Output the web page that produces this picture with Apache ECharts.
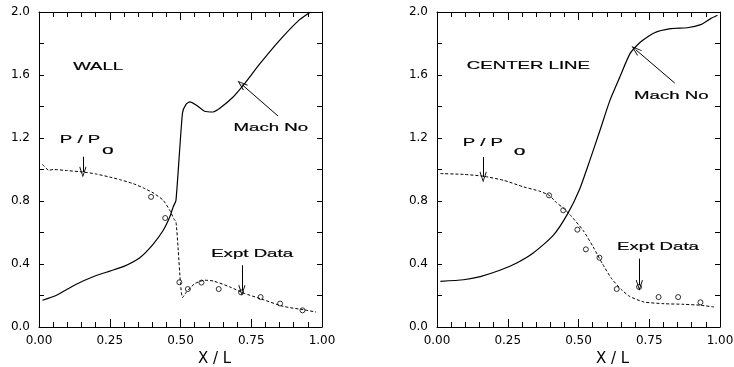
<!DOCTYPE html>
<html>
<head>
<meta charset="utf-8">
<script src="https://cdn.jsdelivr.net/npm/echarts@6/dist/echarts.min.js"></script>
<style>
  html, body { margin: 0; padding: 0; background: #fff; }
  #chart { width: 734px; height: 367px; }
</style>
</head>
<body>
<div id="chart"></div>
<script>
// tick labels
const xTicks = [0, 0.25, 0.5, 0.75, 1.0];
const yTicks = [0, 0.4, 0.8, 1.2, 1.6, 2.0];

// WALL panel
const wallMachX = [0.012, 0.06, 0.13, 0.2, 0.25, 0.3, 0.356, 0.403, 0.439, 0.462, 0.474, 0.484, 0.507, 0.52, 0.533, 0.555, 0.585, 0.615, 0.64, 0.686, 0.722, 0.78, 0.85, 0.92, 0.96];
const wallMachY = [0.17, 0.20, 0.27, 0.325, 0.355, 0.385, 0.44, 0.525, 0.614, 0.698, 0.762, 0.804, 1.359, 1.415, 1.43, 1.41, 1.37, 1.365, 1.39, 1.46, 1.535, 1.67, 1.82, 1.95, 2.0];
const wallPX = [0.012, 0.035, 0.05, 0.1, 0.156, 0.2, 0.25, 0.285, 0.333, 0.37, 0.403, 0.439, 0.462, 0.476, 0.484, 0.492, 0.5, 0.507, 0.521, 0.551, 0.586, 0.616, 0.675, 0.722, 0.792, 0.863, 0.934, 0.979];
const wallPY = [1.033, 0.995, 1.0, 0.993, 0.984, 0.972, 0.952, 0.936, 0.91, 0.882, 0.852, 0.804, 0.741, 0.688, 0.667, 0.487, 0.276, 0.187, 0.222, 0.276, 0.297, 0.292, 0.254, 0.216, 0.174, 0.131, 0.11, 0.095];

// CENTER LINE panel
const centerMachX = [0.012, 0.094, 0.153, 0.222, 0.28, 0.34, 0.41, 0.462, 0.505, 0.54, 0.576, 0.611, 0.646, 0.682, 0.719, 0.767, 0.825, 0.884, 0.932, 0.967, 0.991];
const centerMachY = [0.29, 0.30, 0.32, 0.36, 0.405, 0.47, 0.58, 0.72, 0.88, 1.058, 1.249, 1.439, 1.587, 1.736, 1.81, 1.867, 1.894, 1.90, 1.92, 1.958, 1.979];
const centerPX = [0.012, 0.094, 0.165, 0.236, 0.307, 0.363, 0.396, 0.422, 0.446, 0.469, 0.516, 0.552, 0.585, 0.617, 0.65, 0.68, 0.731, 0.802, 0.873, 0.932, 0.979];
const centerPY = [0.974, 0.969, 0.957, 0.931, 0.889, 0.862, 0.836, 0.79, 0.755, 0.715, 0.614, 0.508, 0.40, 0.307, 0.24, 0.195, 0.159, 0.148, 0.144, 0.138, 0.127];

// experimental data (same stations on both panels)
const exptX = [0.396, 0.446, 0.496, 0.526, 0.574, 0.635, 0.714, 0.783, 0.852, 0.931];
const wallExptP = [0.826, 0.692, 0.284, 0.241, 0.282, 0.241, 0.22, 0.19, 0.149, 0.106];
const centerExptP = [0.836, 0.741, 0.618, 0.493, 0.44, 0.241, 0.254, 0.19, 0.19, 0.157];

const zip = (xs, ys) => xs.map((x, i) => [x, ys[i]]);

const INK = '#000';
const arrowHead = 'path://M0,10 L5,0 L10,10 L9,10.6 L5,2.4 L1,10.6 Z';

// annotations, in data coordinates of each panel
const panels = [
  {
    title: 'WALL', titleAt: [0.209, 1.653],
    machAt: [0.819, 1.265], machArrow: [[0.845, 1.339], [0.716, 1.541]],
    pAt: [0.145, 1.191], subAt: [0.243, 1.119], pArrow: [[0.155, 1.081], [0.155, 0.984]],
    exptAt: [0.753, 0.466], exptArrow: [[0.717, 0.392], [0.717, 0.233]]
  },
  {
    title: 'CENTER LINE', titleAt: [0.323, 1.657],
    machAt: [0.828, 1.465], machArrow: [[0.84, 1.549], [0.702, 1.761]],
    pAt: [0.162, 1.17], subAt: [0.292, 1.112], pArrow: [[0.163, 1.079], [0.163, 0.952]],
    exptAt: [0.781, 0.512], exptArrow: [[0.715, 0.434], [0.715, 0.265]]
  }
];

const chart = echarts.init(document.getElementById('chart'));

function xAxisFor(gridIndex, position) {
  const bottom = position === 'bottom';
  return {
    type: 'value', gridIndex: gridIndex, position: position,
    min: 0, max: 1, interval: 0.25,
    name: bottom ? 'X / L' : '',
    nameLocation: 'middle', nameGap: 21,
    nameTextStyle: { fontFamily: 'DejaVu Sans', fontSize: 15, color: INK, padding: [0, 0, 0, 68] },
    axisLine: { show: true, onZero: false, lineStyle: { color: INK, width: 1 } },
    axisTick: { show: true, inside: true, length: 8, lineStyle: { color: INK } },
    minorTick: { show: true, splitNumber: 5, length: 5, lineStyle: { color: INK } },
    axisLabel: {
      show: bottom, margin: 8, color: INK, fontFamily: 'DejaVu Sans', fontSize: 12,
      formatter: v => xTicks.includes(v) ? v.toFixed(2) : ''
    },
    splitLine: { show: false }
  };
}

function yAxisFor(gridIndex, position) {
  const left = position === 'left';
  return {
    type: 'value', gridIndex: gridIndex, position: position,
    min: 0, max: 2, interval: 0.4,
    axisLine: { show: true, onZero: false, lineStyle: { color: INK, width: 1 } },
    axisTick: { show: true, inside: true, length: 5, lineStyle: { color: INK } },
    minorTick: { show: true, splitNumber: 2, length: 5, lineStyle: { color: INK } },
    axisLabel: {
      show: left, margin: 9, color: INK, fontFamily: 'DejaVu Sans', fontSize: 12,
      formatter: v => yTicks.includes(+v.toFixed(1)) ? v.toFixed(1) : ''
    },
    splitLine: { show: false }
  };
}

function arrowLine(seg) {
  return [
    { coord: seg[0], symbol: 'none' },
    { coord: seg[1], symbol: arrowHead, symbolSize: [7, 11] }
  ];
}

function panelSeries(idx, machX, machY, pX, pY, exptY) {
  const a = panels[idx];
  const axis = idx * 2;
  return [
    {
      type: 'line', xAxisIndex: axis, yAxisIndex: axis,
      data: zip(machX, machY), showSymbol: false, smooth: 0.2,
      lineStyle: { color: INK, width: 1.2 },
      markLine: {
        silent: true, animation: false, label: { show: false },
        lineStyle: { color: INK, width: 1, type: 'solid' },
        data: [arrowLine(a.machArrow), arrowLine(a.pArrow), arrowLine(a.exptArrow)]
      }
    },
    {
      type: 'line', xAxisIndex: axis, yAxisIndex: axis,
      data: zip(pX, pY), showSymbol: false, smooth: 0.2,
      lineStyle: { color: INK, width: 1, type: [3, 2] }
    },
    {
      type: 'scatter', xAxisIndex: axis, yAxisIndex: axis,
      data: zip(exptX, exptY), symbol: 'circle', symbolSize: 5,
      itemStyle: { color: '#fff', borderColor: INK, borderWidth: 1 }
    }
  ];
}

chart.setOption({
  animation: false,
  backgroundColor: '#fff',
  grid: [
    { left: 39, top: 12, width: 283, height: 315, outerBoundsMode: 'none' },
    { left: 437, top: 12, width: 283, height: 315, outerBoundsMode: 'none' }
  ],
  xAxis: [xAxisFor(0, 'bottom'), xAxisFor(0, 'top'), xAxisFor(1, 'bottom'), xAxisFor(1, 'top')],
  yAxis: [yAxisFor(0, 'left'), yAxisFor(0, 'right'), yAxisFor(1, 'left'), yAxisFor(1, 'right')],
  series: [
    ...panelSeries(0, wallMachX, wallMachY, wallPX, wallPY, wallExptP),
    ...panelSeries(1, centerMachX, centerMachY, centerPX, centerPY, centerExptP)
  ]
});

// text annotations (stretched horizontally like the original figure)
function label(gridIndex, at, text, size) {
  const p = chart.convertToPixel({ gridIndex: gridIndex }, at);
  return {
    type: 'text', x: p[0], y: p[1], scaleX: 1.62, silent: true,
    style: {
      text: text, fill: INK, font: (size || 11.5) + 'px "Liberation Sans", Arial, sans-serif',
      textAlign: 'center', textVerticalAlign: 'middle', stroke: INK, lineWidth: 0.2
    }
  };
}

const graphics = [];
panels.forEach((a, i) => {
  graphics.push(label(i, a.titleAt, a.title));
  graphics.push(label(i, a.machAt, 'Mach No'));
  graphics.push(label(i, a.pAt, 'P / P'));
  graphics.push(label(i, a.subAt, 'o', 13));
  graphics.push(label(i, a.exptAt, 'Expt Data'));
});
chart.setOption({ graphic: graphics });
</script>
</body>
</html>
